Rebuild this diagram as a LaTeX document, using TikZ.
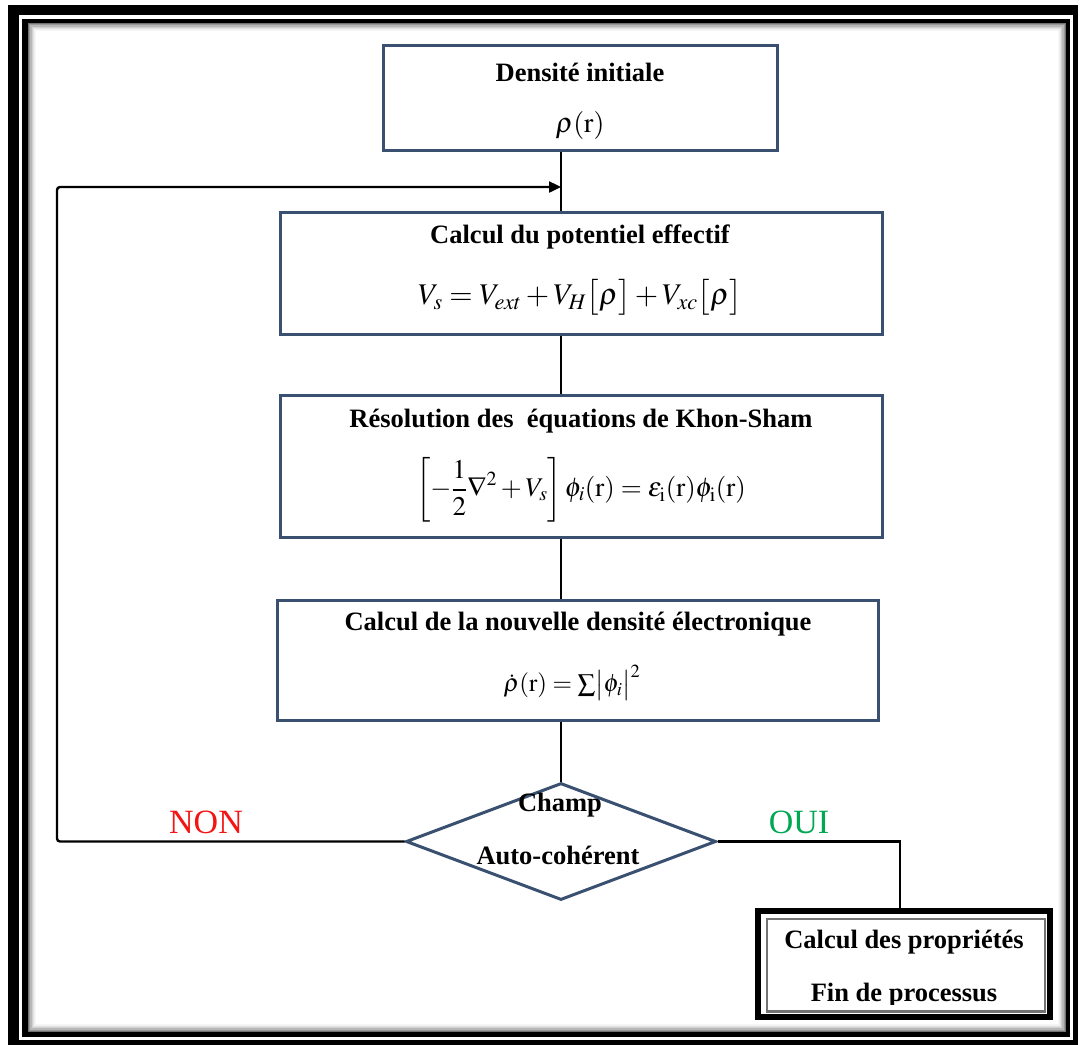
\documentclass[tikz,border=0pt]{standalone}
\usepackage{mathptmx}
\usepackage[no-math]{fontspec}
\setmainfont{Liberation Serif}
\usetikzlibrary{shapes.geometric,arrows.meta}
\definecolor{boxc}{RGB}{58,80,112}
\definecolor{nonc}{RGB}{245,20,20}
\definecolor{ouic}{RGB}{0,168,84}
\tikzset{
 stepbox/.style={draw=boxc, line width=3pt, fill=white, inner sep=0pt},
 ttl/.style={font=\fontsize{26.5}{30}\selectfont\bfseries, inner sep=0pt},
 eqn/.style={font=\fontsize{28}{32}\selectfont, inner sep=0pt},
 conn/.style={draw=black, line width=2.4pt},
}
\begin{document}
\begin{tikzpicture}[x=1pt,y=-1pt]
\useasboundingbox (0,0) rectangle (1080,1045);
\fill[white] (0,0) rectangle (1080,1045);
% outer frame
\fill[black] (8,5) rectangle (1078,1045);
\fill[white] (19,15) rectangle (1073,1040);
\fill[black] (22,19) rectangle (1070,1037);
\fill[white] (28,23) rectangle (1066,1032);
\foreach \i/\o in {0/0.55,1/0.4,2/0.28,3/0.18,4/0.11,5/0.06,6/0.03} {
 \draw[black, opacity=\o, line width=1.2pt] (28.6+1.2*\i, 23.6+1.2*\i) rectangle (1065.4-1.2*\i, 1031.4-1.2*\i);
}
% boxes
\node[stepbox, minimum width=394, minimum height=105] (b1) at (580,97.5) {};
\node[stepbox, minimum width=602, minimum height=122] (b2) at (581,273) {};
\node[stepbox, minimum width=602, minimum height=142] (b3) at (581,466) {};
\node[stepbox, minimum width=601, minimum height=120] (b4) at (577.5,660) {};
\node[draw=boxc, line width=3pt, diamond, aspect=2.65, minimum width=310, minimum height=117, inner sep=0pt, fill=white] (d) at (561,841.5) {};
\node[draw=black, line width=6pt, minimum width=292, minimum height=106, inner sep=0pt, fill=white] (fb) at (904,964) {};
\node[draw=black!55, line width=2.5pt, minimum width=278, minimum height=92.5, inner sep=0pt] (fbi) at (906,965.25) {};
% texts
\node[ttl] (t1a) at (580,72) {Densité initiale};
\node[eqn] (t1b) at (580,125) {$\rho(\mathrm{r})$};
\node[ttl] (t2a) at (580,237) {Calcul du potentiel effectif};
\node[eqn, font=\fontsize{30}{34}\selectfont] (t2b) at (580,297) {$V_s = V_{ext} + V_H\bigl[\rho\bigr] + V_{xc}\bigl[\rho\bigr]$};
\node[ttl] (t3a) at (581,421) {Résolution des\ \ équations de Khon-Sham};
\node[eqn, font=\fontsize{27}{32}\selectfont] (t3b) at (581,490) {$\displaystyle\left[-\frac{1}{2}\nabla^2 + V_s\right]\phi_i(\mathrm{r}) = \varepsilon_{\mathrm{i}}(\mathrm{r})\phi_{\mathrm{i}}(\mathrm{r})$};
\node[ttl] (t4a) at (578,624) {Calcul de la nouvelle densité électronique};
\node[eqn, font=\fontsize{25}{30}\selectfont] (t4b) at (572,683) {$\dot{\rho}(\mathrm{r}) = \sum\bigl|\phi_i\bigr|^2$};
\node[ttl] (t5a) at (560,805) {Champ};
\node[ttl] (t5b) at (558,855) {Auto-cohérent};
\node[font=\fontsize{34}{38}\selectfont, text=nonc, inner sep=0pt] (non) at (206,822) {NON};
\node[font=\fontsize{34}{38}\selectfont, text=ouic, inner sep=0pt] (oui) at (799,822) {OUI};
\node[ttl] (t6a) at (904,942) {Calcul des propriétés};
\begin{scope}
\clip (762,915) rectangle (1046,1004);
\node[ttl] (t6b) at (904,995) {Fin de processus};
\end{scope}
% connectors
\coordinate (vx) at (561,0);
\coordinate (lx) at (57,0);
\coordinate (ay) at (0,187);
\coordinate (ox) at (900,0);
\draw[conn] (b1.south -| vx) -- (b2.north -| vx);
\draw[conn] (b2.south -| vx) -- (b3.north -| vx);
\draw[conn] (b3.south -| vx) -- (b4.north -| vx);
\draw[conn] (b4.south -| vx) -- (d.north);
\draw[conn, rounded corners=3pt, -{Triangle[length=12pt,width=11pt]}] (d.west) -- (d.west -| lx) -- (lx |- ay) -- (vx |- ay);
\draw[conn] (d.east) -| (fb.north -| ox);
\end{tikzpicture}
\end{document}
